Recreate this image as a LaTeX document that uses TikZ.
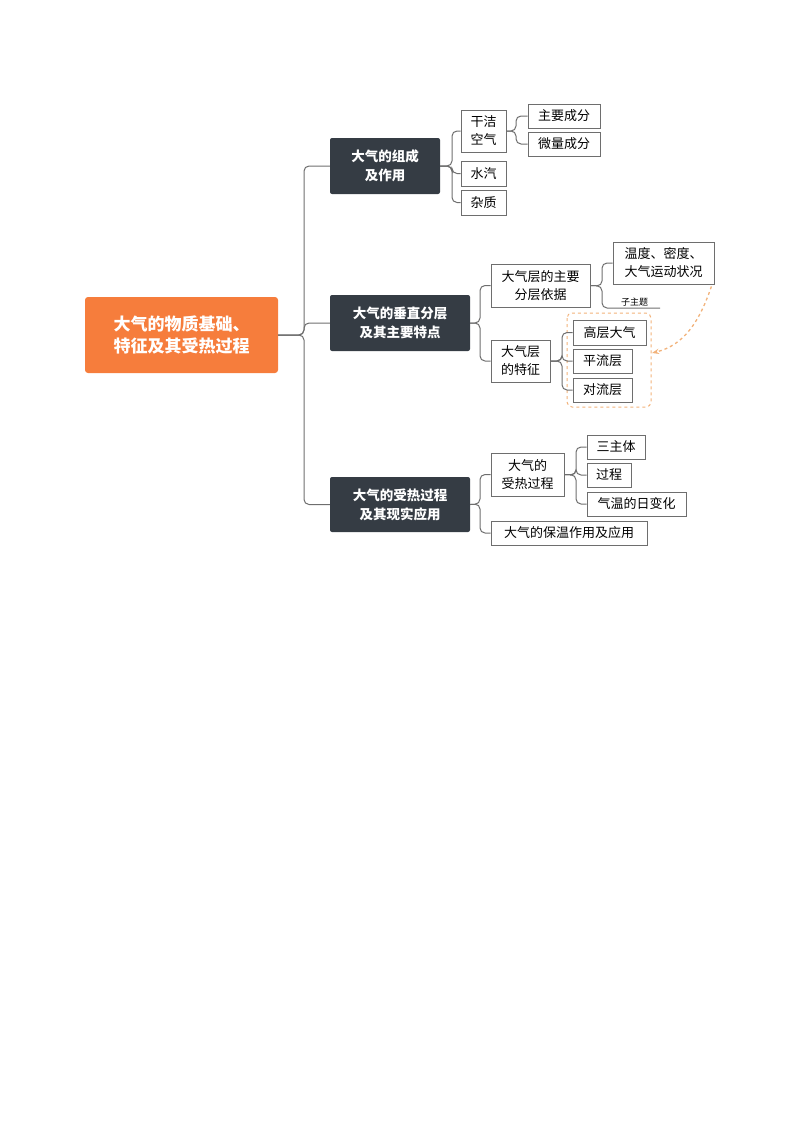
\documentclass[tikz,border=0pt]{standalone}
\usepackage{fontspec}
\setmainfont{Noto Sans CJK SC}
\usetikzlibrary{positioning,arrows.meta}
\definecolor{rootorange}{HTML}{F67D3C}
\definecolor{topicdark}{HTML}{353C44}
\definecolor{linegray}{HTML}{6E6E6E}
\definecolor{dashorange}{HTML}{F2B27A}
\tikzset{
  rootbox/.style={fill=rootorange,rounded corners=3pt,text=white,font=\bfseries\fontsize{17}{22}\selectfont,align=center,inner sep=0pt},
  mainbox/.style={fill=topicdark,rounded corners=2pt,text=white,font=\bfseries\fontsize{13.5}{19}\selectfont,align=center,inner sep=0pt},
  leafbox/.style={draw=linegray,line width=0.8pt,fill=white,font=\fontsize{13}{18}\selectfont,align=center,inner sep=0pt},
  link/.style={draw=linegray,line width=1pt,rounded corners=5pt},
}
\newcommand{\boxat}[5]{\node[#1,minimum width=#4-#2,minimum height=#5-#3] at ({(#2+#4)/2},{(#3+#5)/2})}
\begin{document}
\begin{tikzpicture}[x=1pt,y=-1pt]
\useasboundingbox (0,0) rectangle (800,1132);

% root and main topics
\boxat{rootbox}{85}{297}{278}{373} (root) {大气的物质基础、\\特征及其受热过程};
\boxat{mainbox}{330}{138}{440}{194} (comp) {大气的组成\\及作用};
\boxat{mainbox}{330}{295}{470}{351} (layer) {大气的垂直分层\\及其主要特点};
\boxat{mainbox}{330}{477}{470}{532} (heat) {大气的受热过程\\及其现实应用};

% composition
\boxat{leafbox}{461}{110}{506}{152} (dry) {干洁\\空气};
\boxat{leafbox}{461}{161}{506}{186} (vapor) {水汽};
\boxat{leafbox}{461}{190}{506}{215} (dust) {杂质};
\boxat{leafbox}{528}{104}{600}{128} (major) {主要成分};
\boxat{leafbox}{528}{132}{600}{156} (minor) {微量成分};

% vertical layers
\boxat{leafbox}{491}{264}{590}{307} (basis) {大气层的主要\\分层依据};
\boxat{leafbox}{491}{340}{550}{382} (feature) {大气层\\的特征};
\boxat{leafbox}{613}{242}{714}{284} (factor) {温度、密度、\\大气运动状况};
\node[font=\fontsize{9}{11}\selectfont,anchor=south west,inner sep=1pt] (sub) at (620,307) {子主题};
\coordinate (subend) at (660,308);
\boxat{leafbox}{573}{320}{646}{345} (upper) {高层大气};
\boxat{leafbox}{573}{349}{632}{373} (strat) {平流层};
\boxat{leafbox}{573}{378}{632}{402} (tropo) {对流层};
\draw[dashorange,dashed,line width=1pt,rounded corners=5pt] (567,313) rectangle (651,407);
\coordinate (grp) at (652,353);
\draw[dashorange,dashed,line width=1.3pt,-{Stealth[length=7pt]}] (factor.south east) ++(-3,2) .. controls (700,320) and (685,345) .. (grp);

% heating
\boxat{leafbox}{491}{453}{564}{496} (proc) {大气的\\受热过程};
\boxat{leafbox}{491}{521}{647}{545} (keep) {大气的保温作用及应用};
\boxat{leafbox}{587}{435}{645}{459} (three) {三主体};
\boxat{leafbox}{587}{463}{631}{487} (steps) {过程};
\boxat{leafbox}{587}{492}{686}{516} (daily) {气温的日变化};

% connectors
\foreach \t in {comp,layer,heat}
  \draw[link] (root.east) -- (304,335) |- (\t.west);
\foreach \t in {dry,vapor,dust}
  \draw[link] (comp.east) -- (452,166) |- (\t.west);
\foreach \t in {major,minor}
  \draw[link] (dry.east) -- (516,131) |- (\t.west);
\foreach \t in {basis,feature}
  \draw[link] (layer.east) -- (480,323) |- (\t.west);
\draw[link] (basis.east) -- (602,286) |- (factor.west);
\draw[link] (basis.east) -- (602,286) |- (subend);
\foreach \t in {upper,strat,tropo}
  \draw[link] (feature.east) -- (562,361) |- (\t.west);
\foreach \t in {proc,keep}
  \draw[link] (heat.east) -- (480,504) |- (\t.west);
\foreach \t in {three,steps,daily}
  \draw[link] (proc.east) -- (576,475) |- (\t.west);
\end{tikzpicture}
\end{document}
